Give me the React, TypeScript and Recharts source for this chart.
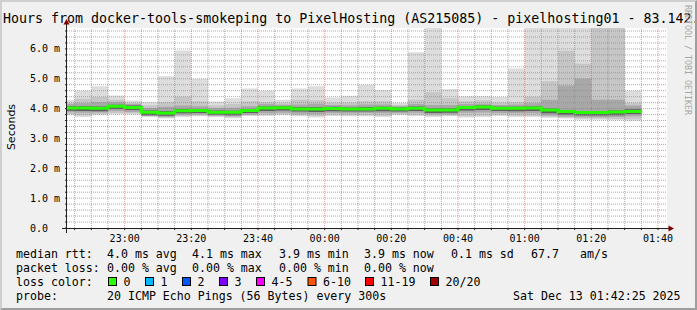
import React from "react";
import {
  ComposedChart,
  Area,
  Line,
  XAxis,
  YAxis,
  ReferenceLine,
  CartesianGrid,
} from "recharts";

// one smokeping step = 5 minutes, x in minutes after 22:00
const stepStart = [
  40, 45, 50, 55, 60, 65, 70, 75, 80, 85, 90, 95, 100, 105, 110, 115, 120, 125,
  130, 135, 140, 145, 150, 155, 160, 165, 170, 175, 180, 185, 190, 195, 200, 205, 210,
];
const lastStepEnd = 215;

// rtt in ms, sorted pings of every step (20 pings each)
const maxRtt = [
  4.3, 4.6, 4.75, 4.44, 4.27, 4.21, 5.08, 5.95, 5.0, 4.24, 4.35, 4.67, 4.6, 4.3, 4.67,
  4.75, 4.37, 4.43, 4.8, 4.62, 4.19, 5.89, 7.4, 4.66, 4.41, 4.41, 4.39, 5.34, 7.5, 7.2,
  8.0, 7.6, 9.0, 8.5, 4.6,
];
const ping19 = [
  4.2, 4.33, 4.39, 4.3, 4.19, 4.11, 4.22, 4.4, 4.25, 4.1, 4.15, 4.25, 4.22, 4.18, 4.3,
  4.28, 4.2, 4.2, 4.25, 4.25, 4.12, 4.3, 4.55, 4.35, 4.25, 4.28, 4.2, 4.22, 4.4, 4.92,
  5.94, 5.5, 7.5, 7.2, 4.19,
];
const ping17 = [
  4.15, 4.18, 4.22, 4.22, 4.15, 4.02, 4.06, 4.1, 4.08, 4.02, 4.03, 4.08, 4.15, 4.13,
  4.14, 4.16, 4.12, 4.11, 4.14, 4.14, 4.08, 4.15, 4.12, 4.12, 4.15, 4.16, 4.12, 4.14,
  4.18, 4.3, 4.77, 5.0, 4.3, 4.3, 4.1,
];
const ping13 = [
  4.08, 4.08, 4.07, 4.13, 4.1, 3.94, 3.92, 3.99, 3.99, 3.94, 3.93, 3.99, 4.07, 4.08,
  4.05, 4.05, 4.06, 4.04, 4.05, 4.06, 4.04, 4.07, 4.01, 4.01, 4.09, 4.1, 4.06, 4.06,
  4.07, 4.0, 3.95, 3.92, 3.92, 3.94, 3.98,
];
const median = [
  4.02, 4.02, 4.01, 4.08, 4.04, 3.88, 3.85, 3.93, 3.94, 3.88, 3.88, 3.94, 4.02, 4.03,
  3.99, 3.99, 4.0, 3.99, 3.99, 4.01, 3.99, 4.01, 3.95, 3.95, 4.04, 4.05, 4.01, 4.01,
  4.02, 3.95, 3.9, 3.87, 3.87, 3.89, 3.9,
];
const ping8 = [
  3.93, 3.92, 3.91, 3.99, 3.95, 3.78, 3.76, 3.84, 3.85, 3.79, 3.78, 3.85, 3.92, 3.94,
  3.9, 3.89, 3.91, 3.9, 3.9, 3.91, 3.9, 3.92, 3.85, 3.86, 3.94, 3.95, 3.92, 3.91, 3.92,
  3.84, 3.79, 3.77, 3.77, 3.78, 3.82,
];
const ping4 = [
  3.88, 3.86, 3.87, 3.92, 3.89, 3.75, 3.72, 3.79, 3.8, 3.76, 3.74, 3.8, 3.84, 3.86,
  3.83, 3.82, 3.85, 3.84, 3.85, 3.84, 3.85, 3.86, 3.81, 3.81, 3.86, 3.87, 3.85, 3.84,
  3.84, 3.77, 3.73, 3.71, 3.71, 3.72, 3.74,
];
const ping2 = [
  3.82, 3.78, 3.82, 3.85, 3.84, 3.74, 3.7, 3.75, 3.77, 3.74, 3.71, 3.78, 3.79, 3.81,
  3.78, 3.75, 3.79, 3.78, 3.78, 3.76, 3.81, 3.79, 3.76, 3.77, 3.74, 3.76, 3.79, 3.76,
  3.76, 3.73, 3.7, 3.67, 3.67, 3.65, 3.64,
];
const minRtt = [
  3.78, 3.72, 3.78, 3.81, 3.8, 3.72, 3.67, 3.72, 3.74, 3.72, 3.68, 3.75, 3.75, 3.78,
  3.74, 3.7, 3.75, 3.74, 3.74, 3.72, 3.78, 3.75, 3.72, 3.74, 3.7, 3.72, 3.75, 3.72,
  3.72, 3.69, 3.67, 3.63, 3.63, 3.61, 3.59,
];

const xMajor = [60, 80, 100, 120, 140, 160, 180, 200, 220];
const xLabels = ["23:00", "23:20", "23:40", "00:00", "00:20", "00:40", "01:00", "01:20", "01:40"];
const yMajor = [0, 1, 2, 3, 4, 5, 6];
const yLabels = ["0.0", "1.0 m", "2.0 m", "3.0 m", "4.0 m", "5.0 m", "6.0 m"];

const lossLabels = ["0", "1", "2", "3", "4-5", "6-10", "11-19", "20/20"];
const lossColors = ["#26ff00", "#00b8ff", "#0059ff", "#7e00ff", "#ff00ff", "#ff5500", "#ff0000", "#a10000"];

const MONO = '"DejaVu Sans Mono", monospace';

const rows: any[] = stepStart.map((t, i) => ({
  t,
  s1: [minRtt[i], maxRtt[i]],
  s2: [ping2[i], ping19[i]],
  s3: [ping4[i], ping17[i]],
  s4: [ping8[i], ping13[i]],
  median: median[i],
}));
rows.push({ ...rows[rows.length - 1], t: lastStepEnd });

const xTicks = Array.from({ length: 36 }, (_, i) => 45 + i * 5);
const yTicks = Array.from({ length: 34 }, (_, i) => Math.round(i * 2) / 10);
const xMinor = xTicks.filter((v) => !xMajor.includes(v));
const yMinor = yTicks.filter((v) => v > 0 && Math.abs(v - Math.round(v)) > 1e-6);

const XTick = (props: any) => {
  const i = xMajor.indexOf(props.payload.value);
  if (i < 0) return <g />;
  return (
    <text x={props.x} y={241.5} textAnchor="middle" fontSize={10} fontFamily={MONO} fill="#000">
      {xLabels[i]}
    </text>
  );
};

const YTick = (props: any) => {
  const i = yMajor.findIndex((v) => Math.abs(v - props.payload.value) < 1e-6);
  if (i < 0) return <g />;
  return (
    <text x={30} y={props.y + 3.5} textAnchor="start" fontSize={10} fontFamily={MONO} fill="#000">
      {yLabels[i]}
    </text>
  );
};

const smoke = [
  { key: "s1", color: "#dddddd" },
  { key: "s2", color: "#c6c6c6" },
  { key: "s3", color: "#a8a8a8" },
  { key: "s4", color: "#5e5e5e" },
];

const lossBoxX = [108, 145, 182, 219, 256, 307.5, 365, 430];

const App = () => {
  const legendText = (x: number, y: number, s: string) => (
    <text x={x} y={y} fontSize={11.6} fontFamily={MONO} fill="#000" style={{ whiteSpace: "pre" }}>
      {s}
    </text>
  );

  return (
    <div
      style={{
        position: "absolute",
        left: 0,
        top: 0,
        width: 697,
        height: 310,
        background: "#f0f0f0",
        overflow: "hidden",
      }}
    >
      <div style={{ position: "absolute", left: 0, top: 0 }}>
        <ComposedChart
          width={697}
          height={250}
          data={rows}
          margin={{ top: 28, right: 30, left: 0, bottom: 0 }}
        >
          <CartesianGrid horizontal={false} vertical={false} fill="#ffffff" />
          <XAxis
            dataKey="t"
            type="number"
            domain={[42.7, 222.7]}
            allowDataOverflow
            ticks={xTicks}
            interval={0}
            height={22}
            tickSize={2}
            axisLine={false}
            tickLine={{ stroke: "#212121" }}
            tick={<XTick />}
          />
          <YAxis
            type="number"
            domain={[0, 6.7]}
            allowDataOverflow
            ticks={yTicks}
            interval={0}
            width={67}
            tickSize={2}
            axisLine={false}
            tickLine={{ stroke: "#212121" }}
            tick={<YTick />}
          />
          {smoke.map((s) => (
            <Area
              key={s.key}
              type="stepAfter"
              dataKey={s.key}
              stroke="none"
              fill={s.color}
              fillOpacity={1}
              dot={false}
              activeDot={false}
              isAnimationActive={false}
            />
          ))}
          {xMinor.map((v) => (
            <ReferenceLine key={"xm" + v} x={v} stroke="#8f8f8f" strokeOpacity={0.75} strokeDasharray="1 1" />
          ))}
          {yMinor.map((v) => (
            <ReferenceLine key={"ym" + v} y={v} stroke="#8f8f8f" strokeOpacity={0.75} strokeDasharray="1 1" />
          ))}
          {xMajor.map((v) => (
            <ReferenceLine key={"xM" + v} x={v} stroke="#de5050" strokeOpacity={0.6} strokeDasharray="1 1" />
          ))}
          {yMajor.slice(1).map((v) => (
            <ReferenceLine key={"yM" + v} y={v} stroke="#de5050" strokeOpacity={0.6} strokeDasharray="1 1" />
          ))}
          <Line
            type="stepAfter"
            dataKey="median"
            stroke="#26ff00"
            strokeWidth={3}
            dot={false}
            activeDot={false}
            isAnimationActive={false}
          />
        </ComposedChart>
      </div>

      <svg
        width={697}
        height={310}
        style={{ position: "absolute", left: 0, top: 0, pointerEvents: "none" }}
      >
        <text x={3} y={23} fontSize={13.3} fontFamily={MONO} fill="#000">
          Hours from docker-tools-smokeping to PixelHosting (AS215085) - pixelhosting01 - 83.142.
        </text>
        <text
          x={684}
          y={5}
          transform="rotate(90 684 5)"
          fontSize={8.3}
          fontFamily={MONO}
          fill="#a6a6a6"
          dy={-1}
        >
          RRDTOOL / TOBI OETIKER
        </text>
        <text
          x={15}
          y={127}
          transform="rotate(-90 15 127)"
          textAnchor="middle"
          fontSize={11}
          fontFamily='"DejaVu Sans", sans-serif'
          fill="#000"
        >
          Seconds
        </text>

        {/* axes with arrows */}
        <line x1={66.5} y1={233} x2={66.5} y2={24} stroke="#212121" />
        <polygon points="63.5,24.5 69.5,24.5 66.5,19" fill="#800000" />
        <line x1={62} y1={228.5} x2={669} y2={228.5} stroke="#212121" />
        <polygon points="668.5,225.5 668.5,231.5 674,228.5" fill="#800000" />

        {legendText(16, 257.5, "median rtt:")}
        {legendText(107, 257.5, "4.0 ms avg")}
        {legendText(192, 257.5, "4.1 ms max")}
        {legendText(279, 257.5, "3.9 ms min")}
        {legendText(364, 257.5, "3.9 ms now")}
        {legendText(451, 257.5, "0.1 ms sd")}
        {legendText(531, 257.5, "67.7")}
        {legendText(580, 257.5, "am/s")}

        {legendText(16, 271.5, "packet loss:")}
        {legendText(107, 271.5, "0.00 % avg")}
        {legendText(192, 271.5, "0.00 % max")}
        {legendText(279, 271.5, "0.00 % min")}
        {legendText(364, 271.5, "0.00 % now")}

        {legendText(16, 285.5, "loss color:")}
        {lossLabels.map((l, i) => (
          <g key={l}>
            <rect
              x={lossBoxX[i] + 0.5}
              y={277.5}
              width={8}
              height={8}
              fill={lossColors[i]}
              stroke="#000"
              strokeWidth={1}
            />
            {legendText(lossBoxX[i] + 15.5, 285.5, l)}
          </g>
        ))}

        {legendText(16, 299.5, "probe:")}
        {legendText(107, 299.5, "20 ICMP Echo Pings (56 Bytes) every 300s")}
        {legendText(513, 299.5, "Sat Dec 13 01:42:25 2025")}
      </svg>

      <div
        style={{
          position: "absolute",
          left: 0,
          top: 0,
          width: 697,
          height: 310,
          boxSizing: "border-box",
          borderTop: "2px solid #cfcfcf",
          borderLeft: "2px solid #cfcfcf",
          borderBottom: "2px solid #9e9e9e",
          borderRight: "2px solid #9e9e9e",
          pointerEvents: "none",
        }}
      />
    </div>
  );
};

export default App;
